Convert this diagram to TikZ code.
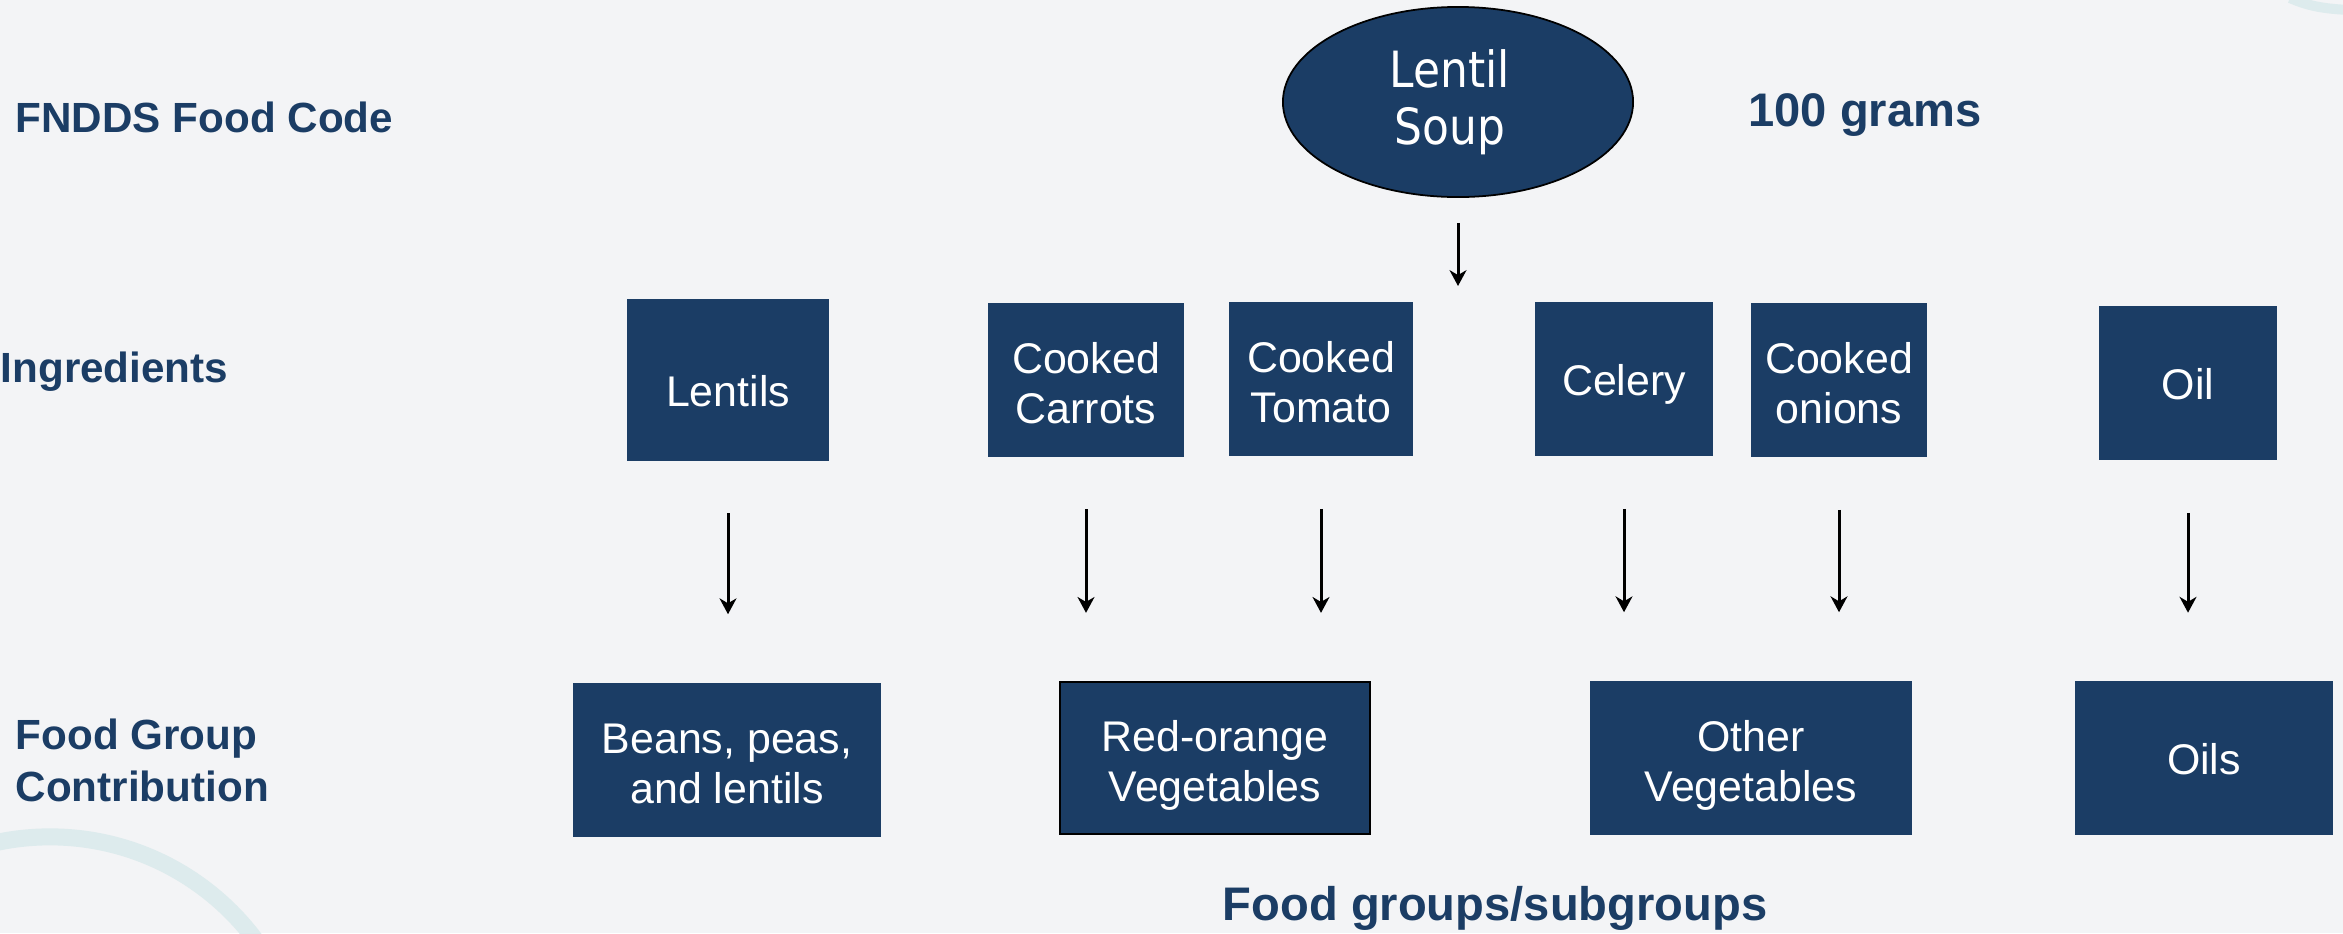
\documentclass[tikz,border=0pt]{standalone}
\usepackage{fontspec}
\setmainfont{Liberation Sans}
\newfontfamily\soupfont[FakeStretch=0.88]{DejaVu Sans}
\usetikzlibrary{arrows.meta,shapes.geometric,positioning}
\definecolor{navy}{RGB}{27,61,101}
\definecolor{slidebg}{RGB}{243,244,246}
\definecolor{swirl}{RGB}{221,235,237}

\begin{document}
\begin{tikzpicture}[x=0.01cm, y=-0.01cm,
  box/.style={fill=navy, text=white, align=center, inner sep=0pt, font=\fontsize{12.2}{14.2}\selectfont},
  oneline/.style={box, text height=0.32cm, text depth=0pt},
  twoline/.style={box, text height=0.86cm, text depth=0pt},
  rowlabel/.style={text=navy, inner sep=0pt, align=left, font=\bfseries\fontsize{12}{14.8}\selectfont},
  note/.style={text=navy, inner sep=0pt, font=\bfseries\fontsize{13.4}{16}\selectfont},
  arr/.style={-{Stealth[length=4.5pt,width=4.8pt,inset=1.4pt]}, line width=0.85pt}]
\fill[slidebg, use as bounding box] (0,0) rectangle (2343,933);
\begin{scope}
\clip (0,0) rectangle (2343,933);
\draw[swirl, line width=0.17cm] (50,1093) circle[radius=2.56cm];
\draw[swirl, line width=0.1cm] (2290,-2) .. controls (2310,7) and (2328,9) .. (2350,10);
\end{scope}

\node (codelbl) at (15,132) [rowlabel, anchor=base west] {FNDDS Food Code};
\node (ingrlbl) at (0,382) [rowlabel, anchor=base west] {Ingredients};
\node (grouplbl) at (15,760) [rowlabel, anchor=west] {Food Group\\Contribution};

\node (soup) at (1458,102) [ellipse, draw=black, line width=0.5pt, fill=navy, text=white, minimum width=3.5cm, minimum height=1.9cm, inner sep=0pt, align=center, font=\soupfont\fontsize{14.2}{16.2}\selectfont] {Lentil\kern0.16cm\\Soup\kern0.16cm};
\node (grams) at (1865,126) [note, anchor=base] {100 grams};
\coordinate (split) at (1458,286);
\draw[arr, shorten <=0.25cm] (soup) -- (split);

\node (lentils) at (728,380) [oneline, text height=0.53cm, minimum width=2.02cm, minimum height=1.61cm] {Lentils};
\node (carrots) at (1086,380) [twoline, minimum width=1.96cm, minimum height=1.53cm] {Cooked\\Carrots};
\node (tomato) at (1321,379) [twoline, minimum width=1.84cm, minimum height=1.54cm] {Cooked\\Tomato};
\node (celery) at (1624,379) [oneline, minimum width=1.78cm, minimum height=1.54cm] {Celery};
\node (onions) at (1839,380) [twoline, minimum width=1.76cm, minimum height=1.54cm] {Cooked\\onions};
\node (oil) at (2188,383) [oneline, minimum width=1.78cm, minimum height=1.54cm] {Oil};

\node (beans) at (727,760) [twoline, minimum width=3.08cm, minimum height=1.54cm] {Beans, peas,\\and lentils};
\node (redorange) at (1215,758) [twoline, draw=black, line width=0.6pt, minimum width=3.1cm, minimum height=1.52cm] {Red-orange\\Vegetables};
\node (other) at (1751,758) [twoline, minimum width=3.21cm, minimum height=1.54cm] {Other\\Vegetables};
\node (oils) at (2204,758) [oneline, minimum width=2.57cm, minimum height=1.53cm] {Oils};

\foreach \a/\b in {lentils/beans, carrots/redorange, tomato/redorange, celery/other, onions/other, oil/oils} {
  \draw[arr, shorten <=0.52cm, shorten >=0.68cm] (\a.south) -- (\a.south |- \b.north);
}

\node (subgroups) at (1495,920) [note, anchor=base] {Food groups/subgroups};
\end{tikzpicture}
\end{document}
